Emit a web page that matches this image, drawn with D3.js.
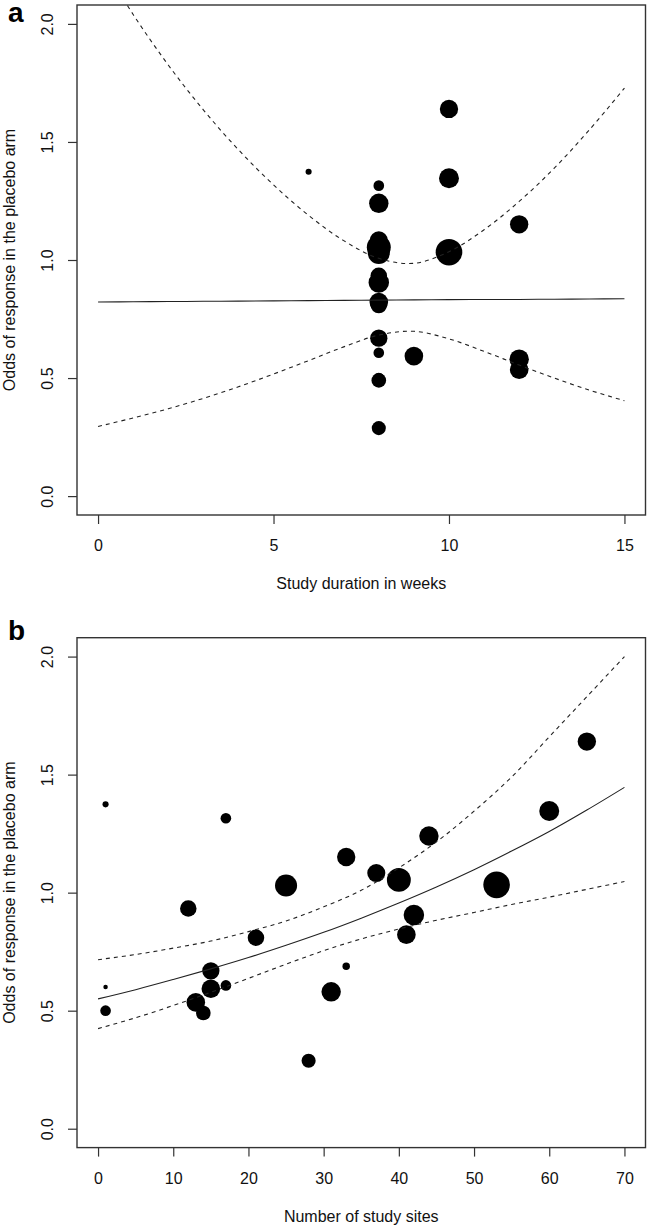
<!DOCTYPE html>
<html>
<head>
<meta charset="utf-8">
<script src="https://cdnjs.cloudflare.com/ajax/libs/d3/7.8.5/d3.min.js"></script>
<style>
  html, body { margin: 0; padding: 0; background: #fff; }
  svg { display: block; font-family: "Liberation Sans", Arial, Helvetica, sans-serif; }
</style>
</head>
<body>
<div id="chart"></div>
<script>
// ---- study level data (one entry per study) ----
const studySites  = [1, 1, 1, 12, 13, 14, 15, 15, 17, 17, 21, 25, 28, 31, 33, 33, 37, 40, 41, 42, 44, 53, 60, 65];
const studyWeeks  = [6, 8, 8, 8, 12, 8, 8, 9, 8, 8, 8, 8, 8, 12, 12, 8, 8, 8, 8, 8, 8, 10, 10, 10];
const placeboOdds = [1.374, 0.600, 0.500, 0.933, 0.535, 0.490, 0.669, 0.593, 0.607, 1.315, 0.809, 1.030,
                     0.288, 0.580, 1.151, 0.688, 1.083, 1.054, 0.822, 0.905, 1.240, 1.033, 1.346, 1.640];
const studyWeight = [23, 17, 40, 62, 70, 55, 65, 70, 40, 40, 62, 83, 53, 73, 69, 28, 68, 90, 70, 77, 73, 100, 75, 69];

// ---- meta-regression on study duration (panel a) ----
const weeksGrid  = [0, 1, 2, 3, 4, 5, 6, 7, 8, 9, 10, 11, 12, 13, 14, 15];
const weeksFit   = [0.822, 0.823, 0.824, 0.825, 0.826, 0.827, 0.828, 0.829, 0.830, 0.831, 0.832, 0.833, 0.833, 0.834, 0.835, 0.836];
const weeksUpper = [2.280, 2.040, 1.826, 1.636, 1.467, 1.318, 1.189, 1.082, 1.007, 0.986, 1.035, 1.128, 1.248, 1.389, 1.551, 1.728];
const weeksLower = [0.295, 0.331, 0.370, 0.414, 0.463, 0.517, 0.574, 0.632, 0.682, 0.698, 0.666, 0.613, 0.555, 0.500, 0.449, 0.404];

// ---- meta-regression on number of sites (panel b) ----
const sitesGrid  = [0, 5, 10, 15, 20, 25, 30, 35, 40, 45, 50, 55, 60, 65, 70];
const sitesFit   = [0.550, 0.589, 0.632, 0.677, 0.725, 0.777, 0.832, 0.892, 0.956, 1.024, 1.097, 1.176, 1.259, 1.350, 1.446];
const sitesUpper = [0.716, 0.738, 0.765, 0.795, 0.835, 0.880, 0.940, 1.010, 1.105, 1.215, 1.345, 1.490, 1.660, 1.830, 2.000];
const sitesLower = [0.424, 0.470, 0.522, 0.578, 0.637, 0.697, 0.754, 0.804, 0.846, 0.883, 0.916, 0.950, 0.981, 1.014, 1.047];

// ---- axes ----
const weekTicks = [0, 5, 10, 15];
const siteTicks = [0, 10, 20, 30, 40, 50, 60, 70];
const oddsTicks = [0, 0.5, 1, 1.5, 2];

const width = 648, height = 1227;
const svg = d3.select('#chart').append('svg')
    .attr('width', width)
    .attr('height', height);

// bubble size from study weight
const radius = d3.scaleLinear().domain([0, 100]).range([0, 13.3]);

/**
 * Draw one bubble plot panel (R style: 4% padded limits, framed box)
 */
function drawPanel(opts) {
    const { id, letter, box, xDomain, xTicks, xLabel, xs, grid, fit, upper, lower } = opts;

    // R pads the axis limits by 4% on each side
    const xPad = (xDomain[1] - xDomain[0]) * 0.04;
    const x = d3.scaleLinear()
        .domain([xDomain[0] - xPad, xDomain[1] + xPad])
        .range([box.left, box.right]);
    const y = d3.scaleLinear()
        .domain([-0.08, 2.08])
        .range([box.bottom, box.top]);

    const g = svg.append('g');

    // clip lines to plot region
    svg.append('clipPath').attr('id', 'clip-' + id)
        .append('rect')
        .attr('x', box.left).attr('y', box.top)
        .attr('width', box.right - box.left)
        .attr('height', box.bottom - box.top);

    // points
    const pts = xs.map((v, i) => ({ x: v, y: placeboOdds[i], w: studyWeight[i] }));
    g.selectAll('.pt')
        .data(pts)
        .enter()
        .append('circle')
        .attr('class', 'pt')
        .attr('cx', d => x(d.x))
        .attr('cy', d => y(d.y))
        .attr('r', d => radius(d.w))
        .attr('fill', '#000');

    // regression line and confidence band
    const line = d3.line()
        .x((d, i) => x(grid[i]))
        .y(d => y(d))
        .curve(d3.curveCatmullRom);

    const lines = g.append('g').attr('clip-path', `url(#clip-${id})`);
    lines.append('path')
        .attr('d', line(fit))
        .attr('fill', 'none')
        .attr('stroke', '#222')
        .attr('stroke-width', 1.1);
    [upper, lower].forEach(band => {
        lines.append('path')
            .attr('d', line(band))
            .attr('fill', 'none')
            .attr('stroke', '#222')
            .attr('stroke-width', 1.1)
            .attr('stroke-dasharray', '4,4');
    });

    // frame
    g.append('rect')
        .attr('x', box.left).attr('y', box.top)
        .attr('width', box.right - box.left)
        .attr('height', box.bottom - box.top)
        .attr('fill', 'none')
        .attr('stroke', '#333')
        .attr('stroke-width', 1.4);

    // x axis
    const xAxis = d3.axisBottom(x).tickValues(xTicks).tickSize(9).tickFormat(d3.format('d'));
    g.append('g')
        .attr('transform', `translate(0,${box.bottom})`)
        .call(xAxis)
        .call(a => a.select('.domain').remove())
        .call(a => a.selectAll('line').attr('stroke', '#333').attr('stroke-width', 1.2))
        .call(a => a.selectAll('text')
            .attr('y', 36).attr('dy', 0)
            .attr('fill', '#111')
            .attr('font-size', '16px'));

    // y axis, labels turned vertical like R's default
    const yAxis = d3.axisLeft(y).tickValues(oddsTicks).tickSize(9).tickFormat(d3.format('.1f'));
    g.append('g')
        .attr('transform', `translate(${box.left},0)`)
        .call(yAxis)
        .call(a => a.select('.domain').remove())
        .call(a => a.selectAll('line').attr('stroke', '#333').attr('stroke-width', 1.2))
        .call(a => a.selectAll('text')
            .attr('x', 0).attr('dy', 0)
            .attr('transform', `translate(${53 - box.left},0) rotate(-90)`)
            .attr('text-anchor', 'middle')
            .attr('fill', '#111')
            .attr('font-size', '16px'));

    // axis titles
    g.append('text')
        .attr('x', (box.left + box.right) / 2)
        .attr('y', box.bottom + 74)
        .attr('text-anchor', 'middle')
        .attr('font-size', '16px')
        .attr('fill', '#111')
        .text(xLabel);

    g.append('text')
        .attr('transform', `translate(15,${(box.top + box.bottom) / 2}) rotate(-90)`)
        .attr('text-anchor', 'middle')
        .attr('font-size', '16px')
        .attr('fill', '#111')
        .text('Odds of response in the placebo arm');

    // panel letter
    g.append('text')
        .attr('x', 8)
        .attr('y', letter.y)
        .attr('font-size', '28px')
        .attr('font-weight', 'bold')
        .attr('fill', '#000')
        .text(letter.text);
}

drawPanel({
    id: 'a',
    letter: { text: 'a', y: 22 },
    box: { left: 77, right: 645.5, top: 5, bottom: 515 },
    xDomain: [0, 15],
    xTicks: weekTicks,
    xLabel: 'Study duration in weeks',
    xs: studyWeeks,
    grid: weeksGrid, fit: weeksFit, upper: weeksUpper, lower: weeksLower
});

drawPanel({
    id: 'b',
    letter: { text: 'b', y: 640 },
    box: { left: 77, right: 645.5, top: 637.7, bottom: 1147.6 },
    xDomain: [0, 70],
    xTicks: siteTicks,
    xLabel: 'Number of study sites',
    xs: studySites,
    grid: sitesGrid, fit: sitesFit, upper: sitesUpper, lower: sitesLower
});
</script>
</body>
</html>
